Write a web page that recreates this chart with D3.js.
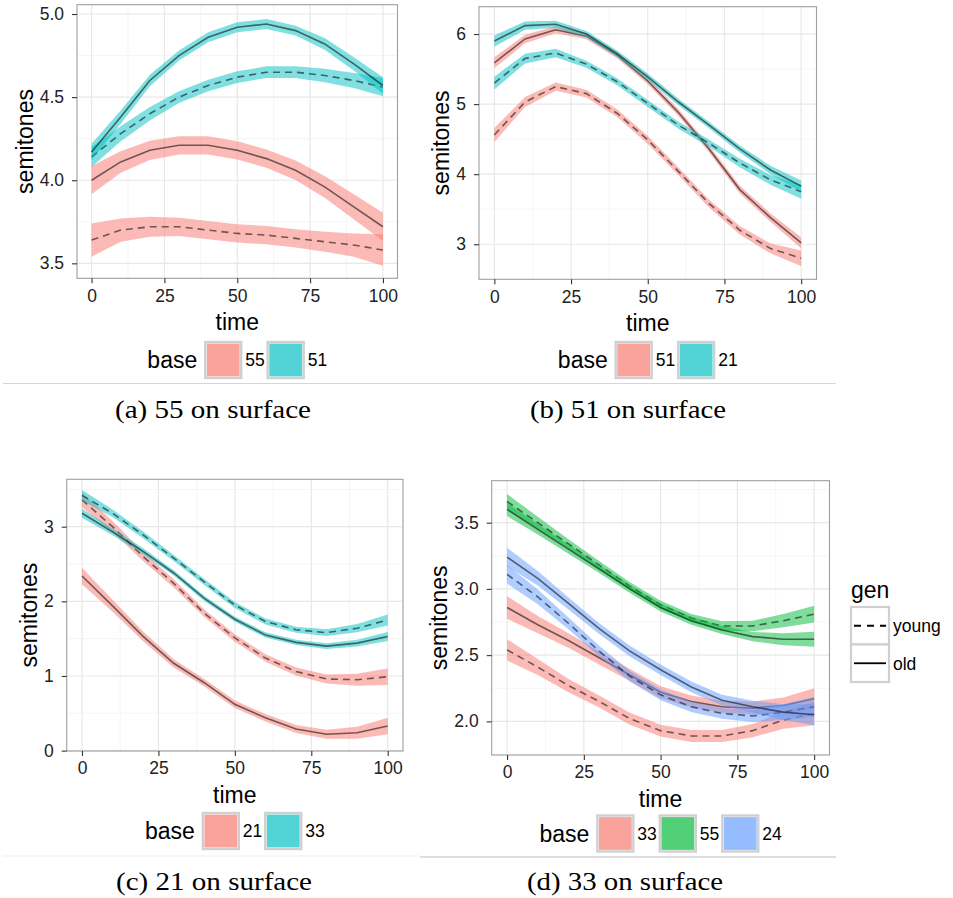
<!DOCTYPE html>
<html>
<head>
<meta charset="utf-8">
<script src="https://cdn.jsdelivr.net/npm/d3@7"></script>
<style>
body { margin: 0; background: #fff; }
svg text { font-family: "Liberation Sans", Arial, sans-serif; }
</style>
</head>
<body>
<div id="figure"><svg width="953" height="898"></svg></div>
<script>
var times = [0, 10, 20, 30, 40, 50, 60, 70, 80, 90, 100];
var xTicks = [0, 25, 50, 75, 100];
var genLevels = ["young", "old"];

// (a) 55 on surface
var basesA = ["55", "51"];
var colorsA = ["#F8766D", "#00BFC4"];
var yTicksA = [3.5, 4.0, 4.5, 5.0];
var yDomainA = [3.41, 5.056];
var a55Young = [3.64, 3.70, 3.72, 3.72, 3.70, 3.68, 3.67, 3.65, 3.63, 3.61, 3.58];
var a55YoungSe = [0.10, 0.07, 0.06, 0.055, 0.055, 0.055, 0.055, 0.055, 0.06, 0.07, 0.095];
var a55Old = [4.00, 4.11, 4.18, 4.21, 4.21, 4.18, 4.13, 4.06, 3.96, 3.84, 3.72];
var a55OldSe = [0.085, 0.065, 0.058, 0.055, 0.055, 0.055, 0.055, 0.058, 0.065, 0.075, 0.085];
var a51Young = [4.14, 4.28, 4.40, 4.50, 4.57, 4.62, 4.65, 4.65, 4.63, 4.60, 4.56];
var a51YoungSe = [0.06, 0.045, 0.04, 0.035, 0.035, 0.035, 0.035, 0.035, 0.04, 0.045, 0.055];
var a51Old = [4.17, 4.38, 4.60, 4.75, 4.86, 4.92, 4.94, 4.90, 4.82, 4.70, 4.57];
var a51OldSe = [0.05, 0.04, 0.035, 0.03, 0.03, 0.03, 0.03, 0.03, 0.035, 0.04, 0.05];

// (b) 51 on surface
var basesB = ["51", "21"];
var colorsB = ["#F8766D", "#00BFC4"];
var yTicksB = [3, 4, 5, 6];
var yDomainB = [2.50, 6.39];
var b51Young = [4.56, 5.03, 5.25, 5.15, 4.87, 4.49, 4.04, 3.58, 3.20, 2.94, 2.80];
var b51YoungSe = [0.10, 0.07, 0.06, 0.055, 0.055, 0.055, 0.055, 0.055, 0.06, 0.07, 0.11];
var b51Old = [5.59, 5.93, 6.06, 5.97, 5.70, 5.33, 4.88, 4.36, 3.78, 3.38, 3.02];
var b51OldSe = [0.08, 0.06, 0.05, 0.045, 0.045, 0.045, 0.05, 0.05, 0.055, 0.06, 0.08];
var b21Young = [5.30, 5.65, 5.73, 5.57, 5.32, 5.01, 4.70, 4.44, 4.16, 3.92, 3.75];
var b21YoungSe = [0.09, 0.07, 0.06, 0.05, 0.05, 0.05, 0.05, 0.05, 0.06, 0.07, 0.10];
var b21Old = [5.90, 6.12, 6.14, 6.00, 5.72, 5.39, 5.03, 4.70, 4.36, 4.06, 3.83];
var b21OldSe = [0.08, 0.06, 0.05, 0.045, 0.045, 0.045, 0.045, 0.045, 0.05, 0.06, 0.08];

// (c) 21 on surface
var basesC = ["21", "33"];
var colorsC = ["#F8766D", "#00BFC4"];
var yTicksC = [0, 1, 2, 3];
var yDomainC = [-0.005, 3.635];
var c21Young = [3.36, 3.00, 2.60, 2.24, 1.84, 1.51, 1.24, 1.06, 0.96, 0.95, 0.99];
var c21YoungSe = [0.10, 0.075, 0.06, 0.055, 0.05, 0.05, 0.05, 0.055, 0.06, 0.08, 0.11];
var c21Old = [2.34, 1.94, 1.53, 1.17, 0.91, 0.62, 0.44, 0.29, 0.22, 0.24, 0.33];
var c21OldSe = [0.11, 0.08, 0.065, 0.055, 0.05, 0.05, 0.05, 0.055, 0.06, 0.08, 0.11];
var c33Young = [3.42, 3.18, 2.89, 2.58, 2.26, 1.95, 1.73, 1.62, 1.58, 1.64, 1.75];
var c33YoungSe = [0.07, 0.05, 0.045, 0.04, 0.04, 0.04, 0.04, 0.04, 0.045, 0.055, 0.075];
var c33Old = [3.18, 2.93, 2.67, 2.38, 2.04, 1.76, 1.55, 1.45, 1.40, 1.44, 1.53];
var c33OldSe = [0.06, 0.045, 0.04, 0.035, 0.035, 0.035, 0.035, 0.035, 0.04, 0.045, 0.06];

// (d) 33 on surface
var basesD = ["33", "55", "24"];
var colorsD = ["#F8766D", "#00BA38", "#619CFF"];
var yTicksD = [2.0, 2.5, 3.0, 3.5];
var yDomainD = [1.746, 3.817];
var d33Young = [2.54, 2.41, 2.27, 2.15, 2.02, 1.93, 1.89, 1.89, 1.93, 2.01, 2.06];
var d33YoungSe = [0.08, 0.06, 0.05, 0.045, 0.045, 0.045, 0.045, 0.045, 0.05, 0.065, 0.09];
var d33Old = [2.86, 2.73, 2.61, 2.48, 2.35, 2.22, 2.15, 2.11, 2.10, 2.12, 2.17];
var d33OldSe = [0.085, 0.065, 0.055, 0.05, 0.045, 0.045, 0.045, 0.045, 0.05, 0.06, 0.08];
var d55Young = [3.66, 3.50, 3.34, 3.18, 3.02, 2.88, 2.78, 2.72, 2.72, 2.76, 2.81];
var d55YoungSe = [0.057, 0.045, 0.035, 0.03, 0.03, 0.03, 0.03, 0.035, 0.04, 0.05, 0.063];
var d55Old = [3.60, 3.45, 3.30, 3.15, 3.00, 2.86, 2.76, 2.69, 2.64, 2.62, 2.62];
var d55OldSe = [0.05, 0.04, 0.035, 0.03, 0.03, 0.03, 0.03, 0.03, 0.035, 0.045, 0.057];
var d24Young = [3.11, 2.94, 2.74, 2.53, 2.34, 2.20, 2.11, 2.06, 2.04, 2.07, 2.11];
var d24YoungSe = [0.07, 0.055, 0.045, 0.04, 0.04, 0.04, 0.04, 0.04, 0.045, 0.06, 0.075];
var d24Old = [3.24, 3.08, 2.89, 2.70, 2.53, 2.39, 2.26, 2.16, 2.11, 2.07, 2.05];
var d24OldSe = [0.07, 0.055, 0.045, 0.04, 0.04, 0.04, 0.04, 0.04, 0.045, 0.06, 0.08];

var captions = ["(a) 55 on surface", "(b) 51 on surface", "(c) 21 on surface", "(d) 33 on surface"];

var figure = d3.select("div#figure svg");

function makeSeries(base, gen, fit, se) {
  return {base: base, gen: gen, fit: fit, se: se};
}

var panels = [
  {bases: basesA, colors: colorsA, yTicks: yTicksA, yDomain: yDomainA, fmt: ".1f",
   series: [makeSeries("55", "young", a55Young, a55YoungSe), makeSeries("55", "old", a55Old, a55OldSe),
            makeSeries("51", "young", a51Young, a51YoungSe), makeSeries("51", "old", a51Old, a51OldSe)],
   box: {left: 77, right: 397.5, top: 4.7, bottom: 278.3}, legendY: 360,
   caption: captions[0], capX: 115, capY: 418},
  {bases: basesB, colors: colorsB, yTicks: yTicksB, yDomain: yDomainB, fmt: "d",
   series: [makeSeries("51", "young", b51Young, b51YoungSe), makeSeries("51", "old", b51Old, b51OldSe),
            makeSeries("21", "young", b21Young, b21YoungSe), makeSeries("21", "old", b21Old, b21OldSe)],
   box: {left: 479, right: 816.5, top: 6.7, bottom: 279.3}, legendY: 360,
   caption: captions[1], capX: 530, capY: 418},
  {bases: basesC, colors: colorsC, yTicks: yTicksC, yDomain: yDomainC, fmt: "d",
   series: [makeSeries("21", "young", c21Young, c21YoungSe), makeSeries("21", "old", c21Old, c21OldSe),
            makeSeries("33", "young", c33Young, c33YoungSe), makeSeries("33", "old", c33Old, c33OldSe)],
   box: {left: 66.7, right: 403, top: 479.3, bottom: 751}, legendY: 831,
   caption: captions[2], capX: 116, capY: 890},
  {bases: basesD, colors: colorsD, yTicks: yTicksD, yDomain: yDomainD, fmt: ".1f",
   series: [makeSeries("33", "young", d33Young, d33YoungSe), makeSeries("33", "old", d33Old, d33OldSe),
            makeSeries("55", "young", d55Young, d55YoungSe), makeSeries("55", "old", d55Old, d55OldSe),
            makeSeries("24", "young", d24Young, d24YoungSe), makeSeries("24", "old", d24Old, d24OldSe)],
   box: {left: 491.7, right: 829.5, top: 480.7, bottom: 755}, legendY: 833.5,
   caption: captions[3], capX: 527, capY: 890}
];

function minorBreaks(ticks, domain) {
  var step = ticks[1] - ticks[0];
  var out = [];
  for (var i = -1; i < ticks.length; i++) {
    var m = ticks[0] + (i + 0.5) * step;
    if (m > domain[0] && m < domain[1]) out.push(m);
  }
  return out;
}

function drawPanel(p) {
  var b = p.box;
  var g = figure.append("g");
  var x = d3.scaleLinear().domain([-5, 105]).range([b.left, b.right]);
  var y = d3.scaleLinear().domain(p.yDomain).range([b.bottom, b.top]);
  var color = d3.scaleOrdinal().domain(p.bases).range(p.colors);

  // grid
  g.selectAll(".minx").data([12.5, 37.5, 62.5, 87.5]).enter().append("line")
    .attr("x1", function(d) { return x(d); }).attr("x2", function(d) { return x(d); })
    .attr("y1", b.top).attr("y2", b.bottom)
    .style("stroke", "#f3f3f3").style("stroke-width", 0.8);
  g.selectAll(".miny").data(minorBreaks(p.yTicks, p.yDomain)).enter().append("line")
    .attr("x1", b.left).attr("x2", b.right)
    .attr("y1", function(d) { return y(d); }).attr("y2", function(d) { return y(d); })
    .style("stroke", "#f3f3f3").style("stroke-width", 0.8);
  g.selectAll(".majx").data(xTicks).enter().append("line")
    .attr("x1", function(d) { return x(d); }).attr("x2", function(d) { return x(d); })
    .attr("y1", b.top).attr("y2", b.bottom)
    .style("stroke", "#e8e8e8").style("stroke-width", 1.2);
  g.selectAll(".majy").data(p.yTicks).enter().append("line")
    .attr("x1", b.left).attr("x2", b.right)
    .attr("y1", function(d) { return y(d); }).attr("y2", function(d) { return y(d); })
    .style("stroke", "#e8e8e8").style("stroke-width", 1.2);

  var area = d3.area()
    .x(function(d, i) { return x(times[i]); })
    .y0(function(d) { return y(d[0] - d[1]); })
    .y1(function(d) { return y(d[0] + d[1]); });
  var line = d3.line()
    .x(function(d, i) { return x(times[i]); })
    .y(function(d) { return y(d); });

  p.series.forEach(function(s) {
    var pts = s.fit.map(function(v, i) { return [v, s.se[i]]; });
    g.append("path").attr("d", area(pts))
      .style("fill", color(s.base)).style("fill-opacity", 0.5).style("stroke", "none");
    g.append("path").attr("d", line(s.fit))
      .style("fill", "none").style("stroke", "#000").style("stroke-opacity", 0.55)
      .style("stroke-width", 1.6)
      .style("stroke-dasharray", s.gen === "young" ? "7,5" : null);
  });

  g.append("rect").attr("x", b.left).attr("y", b.top)
    .attr("width", b.right - b.left).attr("height", b.bottom - b.top)
    .style("fill", "none").style("stroke", "#9e9e9e").style("stroke-width", 1.1);

  // axes
  var xAxis = g.append("g").attr("transform", "translate(0," + b.bottom + ")")
    .call(d3.axisBottom(x).tickValues(xTicks).tickSize(5).tickPadding(6));
  var yAxis = g.append("g").attr("transform", "translate(" + b.left + ",0)")
    .call(d3.axisLeft(y).tickValues(p.yTicks).tickSize(5).tickPadding(8).tickFormat(d3.format(p.fmt)));
  [xAxis, yAxis].forEach(function(a) {
    a.select(".domain").remove();
    a.selectAll(".tick line").style("stroke", "#333").style("stroke-width", 1.1);
    a.selectAll(".tick text").style("font-size", "17.5px").style("fill", "#222")
      .style("font-family", "'Liberation Sans', Arial, sans-serif");
  });

  var maxW = 0;
  yAxis.selectAll(".tick text").each(function() {
    maxW = Math.max(maxW, this.getComputedTextLength());
  });

  g.append("text")
    .attr("transform", "translate(" + (b.left - 13 - maxW - 7) + "," + ((b.top + b.bottom) / 2) + ") rotate(-90)")
    .attr("text-anchor", "middle").style("font-size", "23px").text("semitones");
  g.append("text").attr("x", (b.left + b.right) / 2).attr("y", b.bottom + 52)
    .attr("text-anchor", "middle").style("font-size", "23px").text("time");

  // base legend, centred under the panel
  var lg = g.append("g");
  var title = lg.append("text").attr("x", 0).attr("y", 8).style("font-size", "23px").text("base");
  var cx = title.node().getComputedTextLength() + 8;
  p.bases.forEach(function(base) {
    lg.append("rect").attr("x", cx).attr("y", -18).attr("width", 36).attr("height", 36)
      .style("fill", "#fff").style("stroke", "#d0d0d0").style("stroke-width", 2.4);
    lg.append("rect").attr("x", cx + 1.6).attr("y", -16.4).attr("width", 32.8).attr("height", 32.8)
      .style("fill", color(base)).style("fill-opacity", 0.68);
    var lab = lg.append("text").attr("x", cx + 40).attr("y", 6.3)
      .style("font-size", "17.5px").text(base);
    cx += 40 + lab.node().getComputedTextLength() + 3;
  });
  lg.attr("transform", "translate(" + ((b.left + b.right) / 2 - (cx - 3) / 2) + "," + p.legendY + ")");

  g.append("text").attr("x", p.capX).attr("y", p.capY)
    .attr("textLength", 196).attr("lengthAdjust", "spacingAndGlyphs")
    .style("font-family", "'Liberation Serif', 'Times New Roman', serif")
    .style("font-size", "25px").text(p.caption);
}

panels.forEach(drawPanel);

// separators between sub-figures
var rules = [
  {x1: 3, x2: 836, y: 383.5, c: "#d6d6d6"},
  {x1: 3, x2: 420, y: 856, c: "#efefef"},
  {x1: 420, x2: 836, y: 857, c: "#bdbdbd"}
];
figure.selectAll(".rule").data(rules).enter().append("line")
  .attr("x1", function(d) { return d.x1; }).attr("x2", function(d) { return d.x2; })
  .attr("y1", function(d) { return d.y; }).attr("y2", function(d) { return d.y; })
  .style("stroke", function(d) { return d.c; }).style("stroke-width", 1.2);

// gen legend
var gl = figure.append("g").attr("transform", "translate(851,598)");
gl.append("text").attr("x", 0).attr("y", 0).style("font-size", "23px").text("gen");
genLevels.forEach(function(gen, i) {
  var top = 9 + i * 37.5;
  gl.append("rect").attr("x", 0).attr("y", top).attr("width", 38).attr("height", 37.5)
    .style("fill", "#fff").style("stroke", "#d0d0d0").style("stroke-width", 2.2);
  gl.append("line").attr("x1", 3).attr("x2", 35).attr("y1", top + 18.75).attr("y2", top + 18.75)
    .style("stroke", "#000").style("stroke-width", 1.8)
    .style("stroke-dasharray", gen === "young" ? "7,6" : null);
  gl.append("text").attr("x", 42).attr("y", top + 25)
    .style("font-size", "17.5px").text(gen);
});
</script>
</body>
</html>
